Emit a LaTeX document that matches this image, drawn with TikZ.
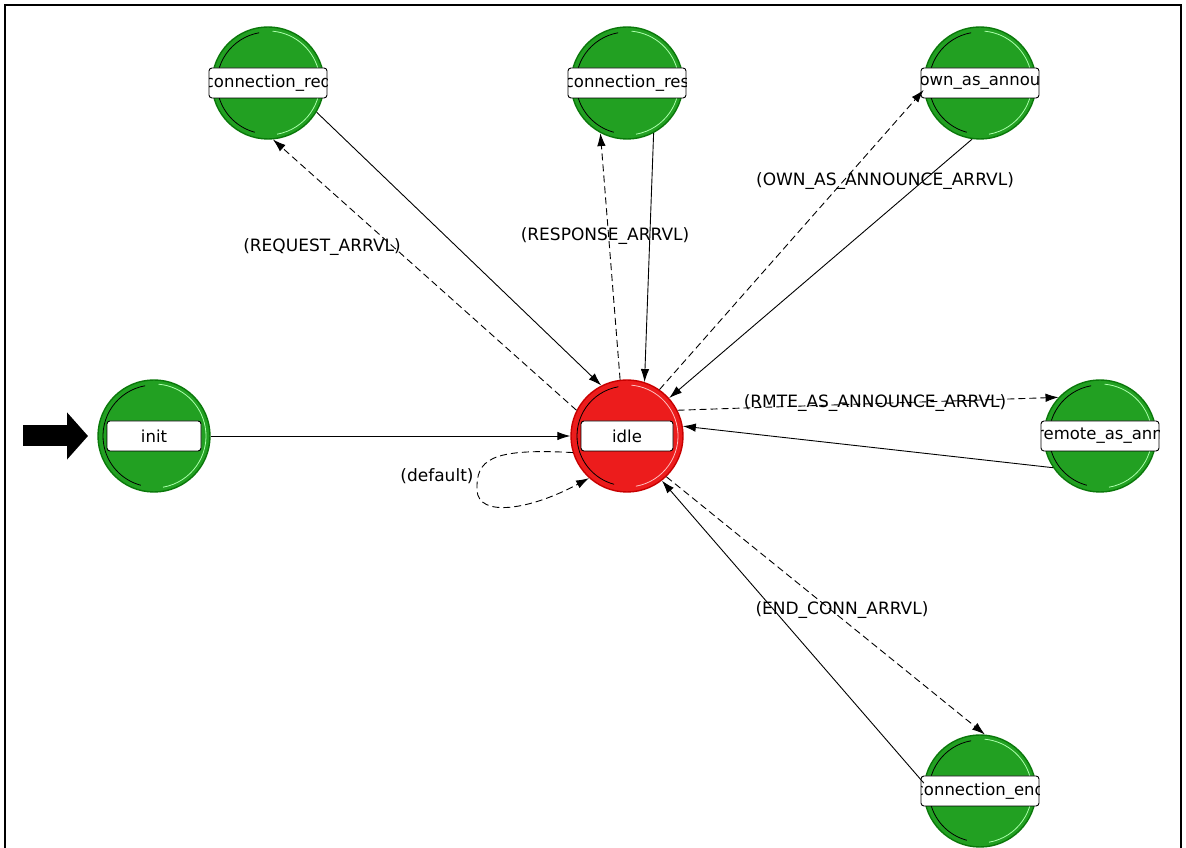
\documentclass[tikz,border=0pt]{standalone}
\usepackage{fontspec}
\usetikzlibrary{arrows.meta}
\newfontfamily\dvsans{DejaVu Sans}

\definecolor{stgreen}{RGB}{34,160,34}
\definecolor{stgreendark}{RGB}{10,120,10}
\definecolor{stgreenlight}{RGB}{170,255,170}
\definecolor{stred}{RGB}{236,28,28}
\definecolor{streddark}{RGB}{200,0,0}
\definecolor{stredlight}{RGB}{255,190,190}

\tikzset{
  x=1pt, y=1pt,
  state/.style={circle, minimum size=112pt, inner sep=0pt, line width=1.4pt},
  greenstate/.style={state, fill=stgreen, draw=stgreendark,
    path picture={
      \draw[black, line width=0.8pt] (path picture bounding box.center) ++(100:51) arc (100:255:51);
      \draw[stgreenlight, line width=0.8pt] (path picture bounding box.center) ++(-80:52) arc (-80:85:52);
    }},
  redstate/.style={state, fill=stred, draw=streddark,
    path picture={
      \draw[black, line width=0.8pt] (path picture bounding box.center) ++(100:50) arc (100:255:50);
      \draw[stredlight, line width=0.8pt] (path picture bounding box.center) ++(-80:51) arc (-80:85:51);
    }},
  namebox/.style={draw=black, fill=white, rounded corners=3pt, minimum height=30pt,
    inner sep=0pt, line width=0.9pt},
  boxtext/.style={font=\dvsans\fontsize{16.5}{18}\selectfont, inner sep=0pt},
  translabel/.style={font=\dvsans\fontsize{17}{19}\selectfont, inner sep=0pt},
  trans/.style={line width=0.9pt, -{Latex[length=13pt,width=8.5pt]}},
  dtrans/.style={trans, dash pattern=on 7pt off 4pt},
}

\begin{document}
\begin{tikzpicture}
\useasboundingbox (0,0) rectangle (1186,848);

% window frame
\draw[line width=1.6pt] (5,0) -- (5,843) -- (1181,843) -- (1181,0);

% states
\node[greenstate] (req)    at (268,765) {};
\node[greenstate] (res)    at (627,765) {};
\node[greenstate] (own)    at (980,765) {};
\node[greenstate] (init)   at (154,412) {};
\node[redstate]   (idle)   at (627,412) {};
\node[greenstate] (remote) at (1100,412) {};
\node[greenstate] (endc)   at (980,57) {};

% state names, clipped to their boxes
\node[namebox, minimum width=118pt, path picture={\node[boxtext] (reqtxt) at (path picture bounding box.center) {connection\_req};}] (reqlbl) at (req) {};
\node[namebox, minimum width=118pt, path picture={\node[boxtext] (restxt) at (path picture bounding box.center) {connection\_res};}] (reslbl) at (res) {};
\node[namebox, minimum width=118pt, path picture={\node[boxtext] (owntxt) at (path picture bounding box.center) {own\_as\_annou};}] (ownlbl) at (own) {};
\node[namebox, minimum width=94pt, path picture={\node[boxtext] (inittxt) at (path picture bounding box.center) {init};}] (initlbl) at (init) {};
\node[namebox, minimum width=92pt, path picture={\node[boxtext] (idletxt) at (path picture bounding box.center) {idle};}] (idlelbl) at (idle) {};
\node[namebox, minimum width=118pt, path picture={\node[boxtext] (remotetxt) at (path picture bounding box.center) {remote\_as\_ann};}] (remotelbl) at (remote) {};
\node[namebox, minimum width=118pt, path picture={\node[boxtext] (endtxt) at (path picture bounding box.center) {connection\_end};}] (endlbl) at (endc) {};

% initial-state marker
\coordinate (instart) at (23,412);
\coordinate (intip) at (88,412);
\draw[line width=21pt, -{Triangle[length=21pt,width=46pt]}] (instart) -- (intip);

% transitions
\draw[trans] (init) -- (idle);

\draw[dtrans] (idle.153) -- (req.-85);
\draw[trans]  (req.-31) -- (idle.117);

\draw[dtrans] (idle.97) -- (res.-118);
\draw[trans]  (res.-62) -- (idle.72);

\draw[dtrans] (idle.55) -- (own.187);
\draw[trans]  (own.-98) -- (idle.42);

\draw[dtrans] (idle.27) -- (remote.137);
\draw[trans]  (remote.-146) -- (idle.10);

\draw[dtrans] (idle.-46) -- (endc.85);
\draw[trans]  (endc.172) -- (idle.-52);

\draw[dtrans] (idle.197) .. controls (490,400) and (476,388) .. (477,358)
                        .. controls (478,330) and (530,338) .. (idle.228);

% transition conditions
\node[translabel] (lreq)  at (322,601) {(REQUEST\_ARRVL)};
\node[translabel] (lres)  at (605,612) {(RESPONSE\_ARRVL)};
\node[translabel] (lown)  at (885,667) {(OWN\_AS\_ANNOUNCE\_ARRVL)};
\node[translabel] (lrmt)  at (875,445) {(RMTE\_AS\_ANNOUNCE\_ARRVL)};
\node[translabel] (lend)  at (842,238) {(END\_CONN\_ARRVL)};
\node[translabel] (ldef)  at (437,372) {(default)};
\end{tikzpicture}
\end{document}
